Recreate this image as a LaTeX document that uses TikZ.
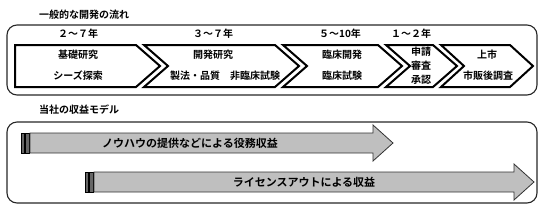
\documentclass[tikz,border=0pt]{standalone}
\usepackage{fontspec}
\setmainfont{Noto Sans CJK JP}[BoldFont={Noto Sans CJK JP Bold}]
\begin{document}
\begin{tikzpicture}[x=1pt,y=-1pt,
  frame/.style={draw=black!85,line width=1.1pt,rounded corners=10pt},
  chev/.style={draw=black,line width=2pt,fill=white,line join=miter},
  lbl/.style={font=\fontsize{10}{12}\selectfont\bfseries,inner sep=0pt,anchor=center},
  alb/.style={font=\fontsize{11}{13}\selectfont\bfseries,inner sep=0pt,anchor=center},
  ttl/.style={font=\fontsize{10}{12}\selectfont\bfseries,inner sep=0pt,anchor=west},
  arr/.style={draw=black!80,line width=0.8pt,fill=black!25,line join=miter},
  stripe/.style={draw=black,line width=0.6pt,fill=black!60}]
\useasboundingbox (0,0) rectangle (544,210);
% top section
\node[ttl] (t1) at (39,15) {一般的な開発の流れ};
\draw[frame] (7,25) rectangle (537,95);
\node[lbl] (y1) at (78,34) {２～７年};
\node[lbl] (y2) at (213,34) {３～７年};
\node[lbl] (y3) at (340,34) {５～10年};
\node[lbl] (y4) at (411,34) {１～２年};
\draw[chev] (15,45) -- (136,45) -- (160,66) -- (136,87) -- (15,87) -- cycle;
\draw[chev] (144,45) -- (275,45) -- (299,66) -- (275,87) -- (144,87) -- (168,66) -- cycle;
\draw[chev] (283,45) -- (378,45) -- (402,66) -- (378,87) -- (283,87) -- (307,66) -- cycle;
\draw[chev] (386,45) -- (433,45) -- (457,66) -- (433,87) -- (386,87) -- (410,66) -- cycle;
\draw[chev] (441,45) -- (510,45) -- (533,66) -- (510,87) -- (441,87) -- (464,66) -- cycle;
\node[lbl] (a1) at (78,55) {基礎研究};
\node[lbl] (a2) at (78,76) {シーズ探索};
\node[lbl] (b1) at (213,55) {開発研究};
\node[lbl] (b2) at (225,76) {製法・品質　非臨床試験};
\node[lbl] (c1) at (342,55) {臨床開発};
\node[lbl] (c2) at (342,76) {臨床試験};
\node[lbl] (d1) at (421,52) {申請};
\node[lbl] (d2) at (421,66) {審査};
\node[lbl] (d3) at (421,80) {承認};
\node[lbl] (e1) at (487,55) {上市};
\node[lbl] (e2) at (488,76) {市販後調査};
% bottom section
\node[ttl] (t2) at (39,110) {当社の収益モデル};
\draw[frame] (7,122) rectangle (537,203);
\draw[stripe] (21,133) rectangle (24.5,153);
\draw[stripe] (25.5,133) rectangle (29,153);
\draw[arr] (30,133) -- (373,133) -- (373,125) -- (393,143) -- (373,161) -- (373,153) -- (30,153) -- cycle;
\node[alb] (r1) at (190,143) {ノウハウの提供などによる役務収益};
\draw[stripe] (85,172) rectangle (88.5,192);
\draw[stripe] (89.5,172) rectangle (93,192);
\draw[arr] (94,172) -- (514,172) -- (514,164) -- (534,182) -- (514,200) -- (514,192) -- (94,192) -- cycle;
\node[alb] (r2) at (304,182) {ライセンスアウトによる収益};
\end{tikzpicture}
\end{document}
